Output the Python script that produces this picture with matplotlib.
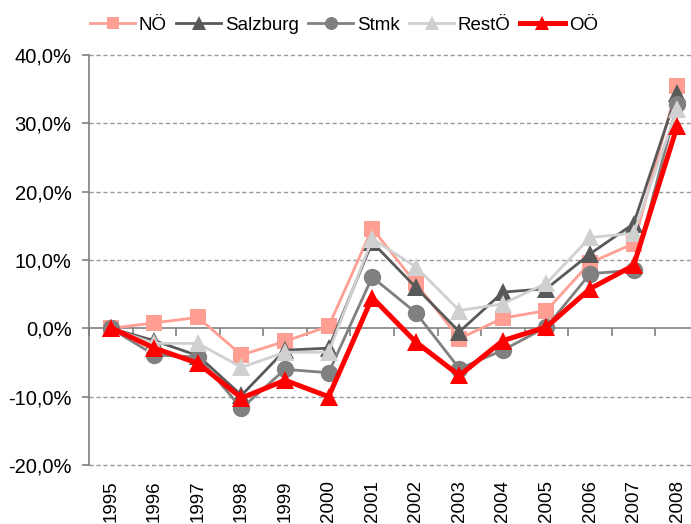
import matplotlib
matplotlib.use("Agg")
import matplotlib.pyplot as plt
import matplotlib.ticker as mticker
import numpy as np

years = ["1995", "1996", "1997", "1998", "1999", "2000", "2001",
         "2002", "2003", "2004", "2005", "2006", "2007", "2008"]

noe = [0.0, 0.8, 1.6, -3.9, -1.9, 0.3, 14.6, 6.6, -1.5, 1.5, 2.6, 9.6, 12.4, 35.5]
salzburg = [0.0, -1.8, -4.0, -9.8, -3.2, -2.9, 12.6, 6.0, -0.5, 5.3, 5.8, 10.9, 15.3, 34.5]
stmk = [0.0, -3.9, -4.2, -11.7, -6.0, -6.5, 7.5, 2.3, -5.9, -3.2, 0.2, 8.0, 8.5, 32.8]
restoe = [0.0, -2.2, -2.2, -5.7, -3.5, -3.5, 13.1, 9.0, 2.6, 3.6, 6.6, 13.3, 13.9, 32.1]
ooe = [0.1, -2.9, -5.1, -10.2, -7.6, -10.0, 4.5, -2.0, -6.9, -1.8, 0.2, 5.8, 9.2, 29.6]

yticks = [-20, -10, 0, 10, 20, 30, 40]

plt.rcParams['font.family'] = ['Liberation Sans', 'DejaVu Sans']

fig = plt.figure(figsize=(6.91, 5.24), dpi=100)
ax = fig.add_axes([89 / 691, 59 / 524, 610 / 691, 410 / 524])

x = np.arange(len(years))
series = [
    ("NÖ", noe, "#FF9E92", "s", 2.0, 11.5),
    ("Salzburg", salzburg, "#595959", "^", 2.0, 12.5),
    ("Stmk", stmk, "#808080", "o", 2.0, 12.5),
    ("RestÖ", restoe, "#D0D0D0", "^", 2.0, 12.5),
    ("OÖ", ooe, "#FF0000", "^", 3.6, 13.5),
]
for i, (name, vals, col, mk, lw, ms) in enumerate(series):
    ax.plot(x, vals, color=col, marker=mk, lw=lw, ms=ms, label=name,
            markeredgewidth=0, zorder=3 + i, clip_on=False)

ax.set_xlim(-0.5, len(years) - 0.5)
ax.set_ylim(-20, 40)
ax.set_yticks(yticks)
ax.yaxis.set_major_formatter(mticker.FuncFormatter(
    lambda v, p: ("%.1f%%" % v).replace(".", ",")))
for t in yticks:
    if t != 0:
        ax.axhline(t, color="#999999", lw=1.0, ls=(0, (3, 2)), zorder=1, clip_on=False)

for s in ["top", "right"]:
    ax.spines[s].set_visible(False)
ax.spines["left"].set_color("#808080")
ax.spines["left"].set_linewidth(1.2)
ax.spines["bottom"].set_position(("data", 0))
ax.spines["bottom"].set_color("#808080")
ax.spines["bottom"].set_linewidth(1.2)

ax.tick_params(axis="y", direction="out", length=5, width=1.2, color="#808080",
               labelsize=14.5, pad=7.5)
ax.set_xticks(x)
ax.set_xticklabels([])
ax.set_xticks(np.arange(len(years) + 1) - 0.5, minor=True)
ax.tick_params(axis="x", which="major", length=0)
ax.tick_params(axis="x", which="minor", direction="out", length=6, width=1.2,
               color="#808080")

sec = ax.secondary_xaxis(0)
sec.set_xticks(x)
sec.set_xticklabels(years, rotation=90, fontsize=13.5)
sec.tick_params(length=0, pad=11)
sec.spines["bottom"].set_visible(False)

leg = fig.legend(*ax.get_legend_handles_labels(), loc="center left",
                 bbox_to_anchor=(90 / 691, 1 - 25 / 524), bbox_transform=fig.transFigure,
                 ncol=5, frameon=False, fontsize=13.5, handlelength=2.4,
                 columnspacing=0.5, handletextpad=0.2, markerscale=0.75,
                 borderpad=0, borderaxespad=0)

fig.savefig("out.png", dpi=100)
